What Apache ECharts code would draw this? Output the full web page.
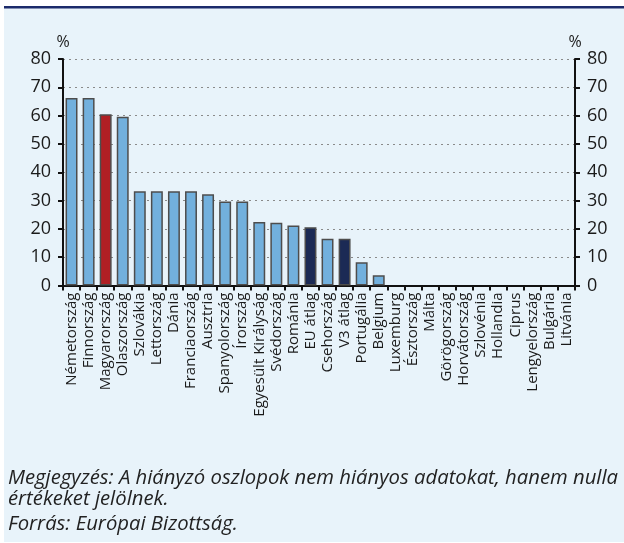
<!DOCTYPE html>
<html>
<head>
<meta charset="utf-8">
<style>
html,body{margin:0;padding:0;background:#ffffff;}
#chart{width:624px;height:543px;}
</style>
<script src="https://cdn.jsdelivr.net/npm/echarts@6/dist/echarts.min.js"></script>
</head>
<body>
<div id="chart"></div>
<script>
const categories = ['Németország','Finnország','Magyarország','Olaszország','Szlovákia','Lettország','Dánia','Franciaország','Ausztria','Spanyolország','Írország','Egyesült Királyság','Svédország','Románia','EU átlag','Csehország','V3 átlag','Portugália','Belgium','Luxemburg','Észtország','Málta','Görögország','Horvátország','Szlovénia','Hollandia','Ciprus','Lengyelország','Bulgária','Litvánia'];
const values = [66.2,66.2,60.5,59.6,33.3,33.3,33.3,33.3,32.2,29.7,29.7,22.4,22.2,21.2,20.6,16.5,16.5,8.2,3.6,0,0,0,0,0,0,0,0,0,0,0];
const redCategories = ['Magyarország'];
const navyCategories = ['EU átlag','V3 átlag'];
const yTicks = [0,10,20,30,40,50,60,70,80];
const unitLabel = '%';
const noteLine1 = 'Megjegyzés: A hiányzó oszlopok nem hiányos adatokat, hanem nulla';
const noteLine2 = 'értékeket jelölnek.';
const sourceLine = 'Forrás: Európai Bizottság.';

const FONT = '"Open Sans", sans-serif';
const NOTE_FONT = 'italic 20.3px "Open Sans", sans-serif';
const barData = categories.map((c, i) => {
  let color = '#72b0dd';
  if (redCategories.includes(c)) color = '#b01f24';
  if (navyCategories.includes(c)) color = '#1b2a55';
  return { value: values[i], itemStyle: { color: color, borderWidth: values[i] > 0 ? 1.5 : 0 } };
});

const yAxisCommon = {
  type: 'value', min: yTicks[0], max: yTicks[yTicks.length - 1], interval: 10,
  name: unitLabel,
  nameLocation: 'end',
  nameGap: 7,
  nameTextStyle: { fontFamily: FONT, fontSize: 16, color: '#1a1a1a' },
  axisLine: { show: true, lineStyle: { color: '#111', width: 2 } },
  axisTick: { show: true, inside: false, length: 5, lineStyle: { color: '#111', width: 2 } },
  axisLabel: { fontFamily: FONT, fontSize: 18, color: '#1a1a1a', margin: 12 }
};

const chart = echarts.init(document.getElementById('chart'), null, { renderer: 'canvas' });
chart.setOption({
  backgroundColor: '#ffffff',
  animation: false,
  graphic: [
    { type: 'rect', z: -10, shape: { x: 4, y: 8, width: 620, height: 534 }, style: { fill: '#e8f3fa' } },
    { type: 'rect', z: -9, shape: { x: 4, y: 6, width: 620, height: 2.5 }, style: { fill: '#1c2b6b' } },
    { type: 'text', left: 8, top: 468, style: { text: noteLine1, font: NOTE_FONT, fill: '#222' } },
    { type: 'text', left: 8, top: 489, style: { text: noteLine2, font: NOTE_FONT, fill: '#222' } },
    { type: 'text', left: 8, top: 514, style: { text: sourceLine, font: NOTE_FONT, fill: '#222' } }
  ],
  grid: { left: 63, right: 49, top: 59, bottom: 257.5, containLabel: false },
  xAxis: {
    type: 'category', data: categories,
    axisLine: { show: true, onZero: false, lineStyle: { color: '#111', width: 2 } },
    axisTick: { show: true, interval: 0, alignWithLabel: false, length: 5, lineStyle: { color: '#111', width: 2 } },
    axisLabel: { interval: 0, rotate: 90, fontFamily: FONT, fontSize: 15, color: '#1a1a1a', margin: 7 },
    splitLine: { show: false }
  },
  yAxis: [
    Object.assign({}, yAxisCommon, {
      position: 'left',
      splitLine: { show: true, lineStyle: { color: '#8a8a8a', type: [2, 4], width: 1.2 } }
    }),
    Object.assign({}, yAxisCommon, {
      position: 'right',
      splitLine: { show: false }
    })
  ],
  series: [{
    type: 'bar', data: barData, barWidth: '70%', yAxisIndex: 0,
    itemStyle: { borderColor: '#4d4d4d', borderWidth: 1.5 }
  }]
});
</script>
</body>
</html>
